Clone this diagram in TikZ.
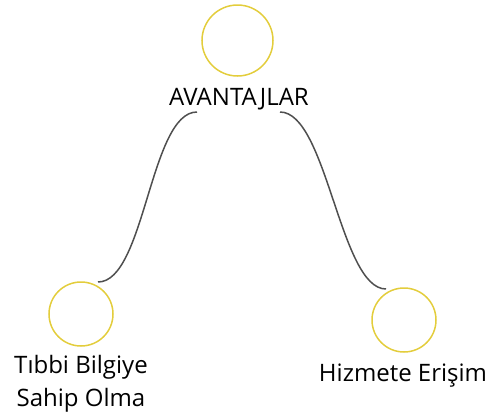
\documentclass[tikz,border=0pt]{standalone}
\usepackage{fontspec}
\setmainfont{Open Sans}
\usetikzlibrary{positioning}
\definecolor{ringcol}{HTML}{E3CD3C}
\definecolor{arccol}{HTML}{4F4F4F}

\begin{document}
\begin{tikzpicture}[x=1pt, y=-1pt,
    ring/.style={shape=circle, draw=ringcol, line width=1.5pt, inner sep=0pt},
    txt/.style={font=\fontsize{24}{32}\selectfont, align=center, text=black, inner sep=0pt},
    arc/.style={draw=arccol, line width=1.5pt}]
     \useasboundingbox (0,0) rectangle (491,418);

     \node[ring, minimum size=71pt] (top) at (237.5,40.5) {};
     \node[ring, minimum size=64pt] (left) at (81,314) {};
     \node[ring, minimum size=64pt] (right) at (404,320) {};

     \node[txt, anchor=base] (av) at (239,105) {AVANTAJLAR};
     \node[txt, anchor=base] (tb) at (81,373) {Tıbbi Bilgiye};
     \node[txt, anchor=base] (so) at (81,406) {Sahip Olma};
     \node[txt, anchor=base] (he) at (403,381) {Hizmete Erişim};

     \coordinate (la) at (98,282);
     \coordinate (lb) at (197,112);
     \coordinate (ra) at (280,112);
     \coordinate (rb) at (386,289);

     \path[arc] (la) .. controls (145,282) and (150,112) .. (lb);
     \path[arc] (ra) .. controls (327,112) and (340,289) .. (rb);
    \end{tikzpicture}
\end{document}
